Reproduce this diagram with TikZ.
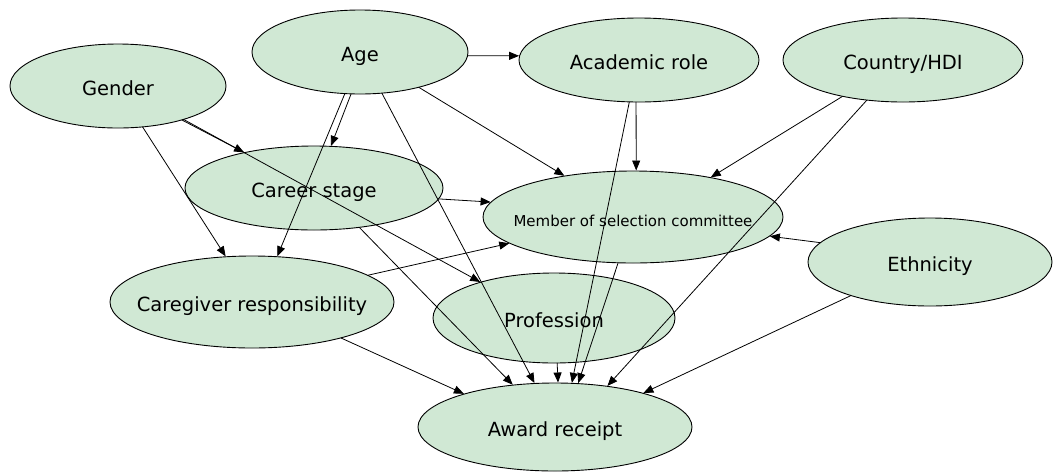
\documentclass[tikz,border=0pt]{standalone}
\usepackage{fontspec}
\setmainfont{DejaVu Sans}
\usetikzlibrary{shapes.geometric,arrows.meta}
\definecolor{nodefill}{RGB}{208,232,212}
% centred label of zero width, so the ellipse keeps its given size
\newcommand{\ctext}[1]{\makebox[0pt][c]{#1}}
\tikzset{
  var/.style={ellipse, draw=black, line width=0.9pt, fill=nodefill,
    inner sep=0pt, outer sep=0pt, text height=1.9em, text depth=0.05em,
    font=\fontsize{19.5}{23}\selectfont},
  link/.style={draw=black, line width=0.8pt,
    -{Triangle[length=10pt,width=8pt]}, shorten >=0.5pt},
}
\begin{document}
\begin{tikzpicture}[x=1pt,y=-1pt]
\useasboundingbox (0,0) rectangle (1053,472);

% variables
\node[var, minimum width=216pt, minimum height=84pt] (gender)  at (118,86)  {\ctext{Gender}};
\node[var, minimum width=216pt, minimum height=84pt] (age)     at (360,52)  {\ctext{Age}};
\node[var, minimum width=240pt, minimum height=84pt] (acad)    at (639,60)  {\ctext{Academic role}};
\node[var, minimum width=240pt, minimum height=84pt] (country) at (903,60)  {\ctext{Country/HDI}};
\node[var, minimum width=258pt, minimum height=84pt] (career)  at (314,188) {\ctext{Career stage}};
\node[var, minimum width=300pt, minimum height=92pt,
      font=\fontsize{15}{18}\selectfont]              (member)  at (633,217) {\ctext{Member of selection committee}};
\node[var, minimum width=244pt, minimum height=88pt] (ethn)    at (930,262) {\ctext{Ethnicity}};
\node[var, minimum width=284pt, minimum height=92pt] (care)    at (252,302) {\ctext{Caregiver responsibility}};
\node[var, minimum width=242pt, minimum height=90pt] (prof)    at (554,318) {\ctext{Profession}};
\node[var, minimum width=274pt, minimum height=88pt] (award)   at (555,427) {\ctext{Award receipt}};

% causal links
\draw[link] (age.-2)      -- (acad.178);
\draw[link] (age.-102)    -- (career.68);
\draw[link] (age.-110)    -- (care.61.5);
\draw[link] (age.-62.4)   -- (award.115);
\draw[link] (age.-31.8)   -- (member.149.4);
\draw[link] (gender.-28)  -- (career.153.4);
\draw[link] (gender.-27.5)-- (prof.154.3);
\draw[link] (gender.-59.2)-- (care.120.4);
\draw[link] (career.-5.5) -- (member.174.5);
\draw[link] (career.-41)  -- (award.135);
\draw[link] (care.13.8)   -- (member.192.8);
\draw[link] (care.-22.2)  -- (award.160.5);
\draw[link] (acad.-94)    -- (member.86);
\draw[link] (acad.-103.4) -- (award.69.9);
\draw[link] (country.-149.6) -- (member.27.5);
\draw[link] (country.-132.1) -- (award.38);
\draw[link] (member.-108) -- (award.62);
\draw[link] (ethn.170.5)  -- (member.-8.2);
\draw[link] (ethn.203.1)  -- (award.21);
\draw[link] (prof.-86)    -- (award.86);
\end{tikzpicture}
\end{document}
